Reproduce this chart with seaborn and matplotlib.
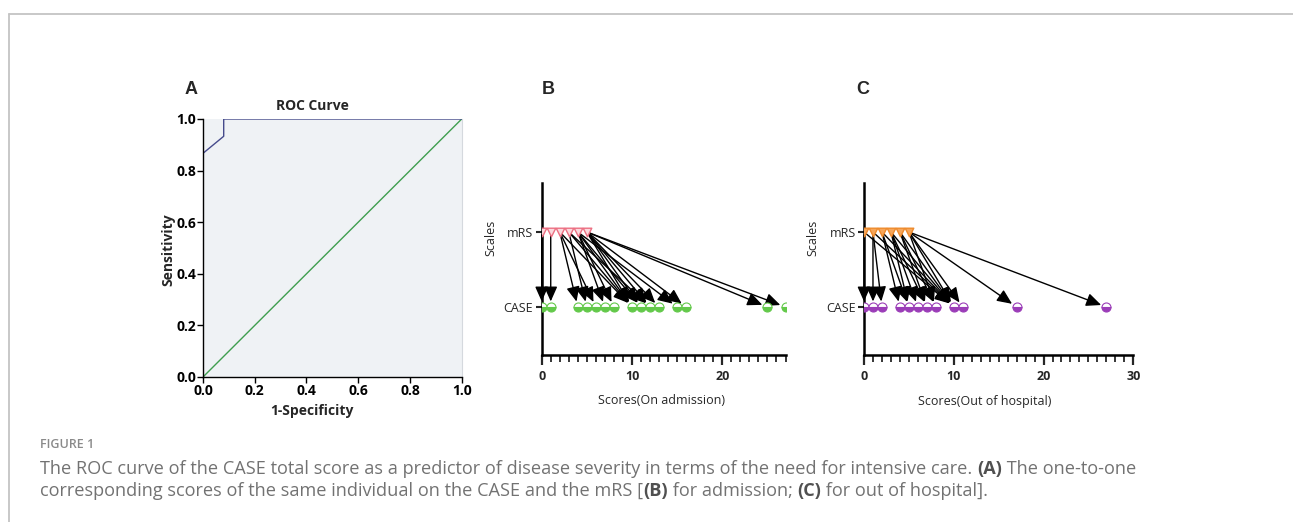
import matplotlib
matplotlib.use("Agg")
import matplotlib.pyplot as plt
import seaborn as sns
import numpy as np
import pandas as pd
from matplotlib.lines import Line2D

# ---------------- data ----------------
roc_fpr = [0.0, 0.0, 0.08, 0.08, 1.0]
roc_tpr = [0.0, 0.867, 0.933, 1.0, 1.0]
ref_x = [0.0, 1.0]
ref_y = [0.0, 1.0]
roc_ticks = [0.0, 0.2, 0.4, 0.6, 0.8, 1.0]

scale_labels = ["CASE", "mRS"]

# admission: pairs (mRS score -> CASE score)
mrs_adm = [0, 1, 2, 3, 2, 4, 4, 2, 3, 4, 5, 4, 5, 5, 5, 4, 5, 5, 5, 3]
case_adm = [0, 1, 4, 5, 6, 7, 8, 10, 10, 10, 10, 11, 11, 12, 13, 15, 16, 25, 27, 12]

# out of hospital
mrs_out = [0, 1, 1, 0, 2, 2, 2, 3, 3, 3, 3, 4, 4, 4, 5, 5, 5, 5, 5, 1]
case_out = [0, 1, 2, 10, 4, 5, 10, 5, 6, 7, 10, 7, 8, 10, 8, 10, 11, 17, 27, 10]

xticks_adm = [0, 10, 20]
xticks_out = [0, 10, 20, 30]

caption_title = "FIGURE 1"
caption_parts_1 = [("The ROC curve of the CASE total score as a predictor of disease severity in terms of the need for intensive care. ", False),
                   ("(A)", True), (" The one-to-one", False)]
caption_parts_2 = [("corresponding scores of the same individual on the CASE and the mRS [", False), ("(B)", True),
                   (" for admission; ", False), ("(C)", True), (" for out of hospital].", False)]

# ---------------- style ----------------
sns.set_style("white")
plt.rcParams["font.family"] = ["Open Sans", "DejaVu Sans"]

W, H = 1293, 522
fig = plt.figure(figsize=(W / 100, H / 100), dpi=100)


def fx(x):
    return x / W


def fy(y):
    return 1 - y / H


def rect(x0, y0, x1, y1):
    return [fx(x0), fy(y1), fx(x1) - fx(x0), fy(y0) - fy(y1)]


# border
fig.add_artist(Line2D([fx(9), fx(W)], [fy(14), fy(14)], color="#c4c4c4", lw=1.3))
fig.add_artist(Line2D([fx(9), fx(9)], [fy(14), fy(H)], color="#c4c4c4", lw=1.3))

# ---------------- panel A ----------------
axA = fig.add_axes(rect(203, 119, 461.7, 377))
axA.set_facecolor("#eff2f5")
sns.lineplot(x=ref_x, y=ref_y, ax=axA, color="#3f9e4f", lw=1.0, sort=False)
sns.lineplot(x=roc_fpr, y=roc_tpr, ax=axA, color="#464b8c", lw=1.0, sort=False,
             estimator=None)
axA.set_xlim(0, 1)
axA.set_ylim(0, 1)
axA.set_xticks(roc_ticks)
axA.set_yticks(roc_ticks)
axA.set_xticklabels([f"{t:.1f}" for t in roc_ticks], fontweight="bold", fontsize=10)
axA.set_yticklabels([f"{t:.1f}" for t in roc_ticks], fontweight="bold", fontsize=10)
axA.tick_params(axis="both", direction="out", length=4, width=1, pad=1, colors="black",
                bottom=True, left=True)
for s in ["left", "bottom"]:
    axA.spines[s].set_color("black")
    axA.spines[s].set_linewidth(1.0)
axA.spines["top"].set_visible(False)
axA.spines["right"].set_color("#d5d9de")
axA.spines["right"].set_linewidth(0.8)
axA.set_xlabel("")
axA.set_ylabel("")
fig.text(fx(312), fy(106), "ROC Curve", ha="center", va="center", fontsize=10, fontweight="bold")
fig.text(fx(312), fy(411), "1-Specificity", ha="center", va="center", fontsize=10, fontweight="bold")
fig.text(fx(168), fy(250), "Sensitivity", ha="center", va="center", fontsize=10, fontweight="bold",
         rotation=90)

# panel letters
for lab, x, y in [("A", 191, 90), ("B", 548, 90), ("C", 863, 90)]:
    fig.text(fx(x), fy(y), lab, ha="center", va="center", fontsize=13, fontweight="bold",
             family="Liberation Sans")


# ---------------- panels B and C ----------------
def scale_panel(ax, mrs, case, xmax, xticks, tri_face, tri_edge, circ_col, xlabel, xl_center):
    for m, c in zip(mrs, case):
        ax.annotate("", xy=(c, 0), xytext=(m, 1), xycoords="data",
                    arrowprops=dict(arrowstyle="-|>,head_length=0.9,head_width=0.4",
                                    color="black", lw=1.0, shrinkA=2, shrinkB=4,
                                    mutation_scale=10), zorder=2)
    top = pd.DataFrame({"score": sorted(set(mrs)), "scale": 1})
    sns.scatterplot(data=top, x="score", y="scale", ax=ax, marker="v", s=38,
                    color=tri_face, edgecolor=tri_edge, linewidth=1.0, zorder=3)
    bot = sorted(set(case))
    ax.plot(bot, [0] * len(bot), ls="none", marker="o", ms=6.5, fillstyle="bottom",
            color=circ_col, markerfacecoloralt="white", markeredgecolor=circ_col,
            markeredgewidth=0.8, zorder=3)
    ax.set_xlim(0, xmax)
    ax.set_ylim(-0.64, 1.653)
    ax.set_xticks(xticks)
    ax.set_xticks(np.arange(0, xmax + 0.01, 1), minor=True)
    ax.set_xticklabels([str(t) for t in xticks], fontweight="bold", fontsize=9)
    ax.set_yticks([0, 1])
    ax.set_yticklabels(scale_labels, fontsize=9)
    ax.tick_params(axis="x", which="major", direction="out", length=7, width=1.6, pad=4,
                   bottom=True)
    ax.tick_params(axis="x", which="minor", direction="out", length=5, width=1.3, bottom=True)
    ax.tick_params(axis="y", direction="out", length=4, width=1.5, pad=2, left=True)
    for s in ["left", "bottom"]:
        ax.spines[s].set_color("black")
        ax.spines[s].set_linewidth(1.8)
    for s in ["top", "right"]:
        ax.spines[s].set_visible(False)
    ax.set_xlabel("")
    ax.set_ylabel("")
    ax.set_facecolor("none")
    x0 = ax.get_position().x0
    fig.text(fx(xl_center), fy(401), xlabel, ha="center", va="center", fontsize=9)
    fig.text(x0 - fx(51), fy(238), "Scales", ha="center", va="center", fontsize=9, rotation=90)


axB = fig.add_axes(rect(541.7, 183, 541.7 + 27 * 9.03, 355))
scale_panel(axB, mrs_adm, case_adm, 27, xticks_adm, "#fbd9dd", "#ec6f82", "#63c94a",
            "Scores(On admission)", 662)

axC = fig.add_axes(rect(864, 183, 1133.3, 355))
scale_panel(axC, mrs_out, case_out, 30, xticks_out, "#f6a65a", "#ee8a2c", "#9b3db8",
            "Scores(Out of hospital)", 985)

# ---------------- caption ----------------
fig.text(fx(40), fy(445), caption_title, ha="left", va="center", fontsize=9, color="#8a8a8a",
         fontweight="semibold")

renderer = fig.canvas.get_renderer()


def rich_line(parts, x_px, y_px, size=13.1):
    x = x_px
    for txt, bold in parts:
        t = fig.text(fx(x), fy(y_px), txt, ha="left", va="center", fontsize=size,
                     color="#505050" if bold else "#727272",
                     fontweight="bold" if bold else "normal")
        bb = t.get_window_extent(renderer=renderer)
        x += bb.width


rich_line(caption_parts_1, 40, 469)
rich_line(caption_parts_2, 40, 491)

fig.savefig("out.png", dpi=100)
